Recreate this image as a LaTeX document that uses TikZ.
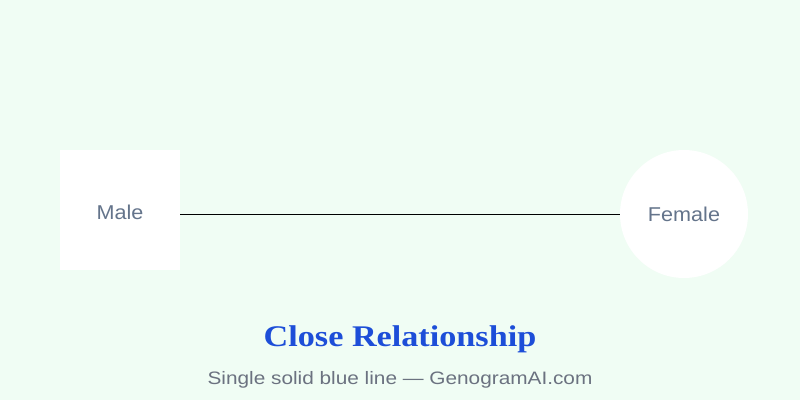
\documentclass[tikz,border=0pt]{standalone}
\usepackage{fontspec}
\setmainfont{Liberation Sans}
\newfontfamily\titlefont[FakeStretch=1.14]{Liberation Serif}
\newfontfamily\lblfont[FakeStretch=1.08]{Liberation Sans}
\newfontfamily\subfont[FakeStretch=1.155]{Liberation Sans}
\definecolor{bg}{HTML}{F0FDF4}
\definecolor{lbl}{HTML}{64748B}
\definecolor{ttl}{HTML}{1D4ED8}
\definecolor{sub}{HTML}{6B7280}
\begin{document}
\begin{tikzpicture}[x=1pt,y=-1pt,
  person/.style={fill=white,draw=none,inner sep=0pt},
  lbltext/.style={text=lbl,font=\lblfont\fontsize{20}{24}\selectfont},
  rel/.style={draw=black,line width=0.8pt}]
\fill[bg] (0,0) rectangle (800,400);
\useasboundingbox (0,0) rectangle (800,400);
\node[person,rectangle,minimum width=120pt,minimum height=120pt] (male) at (120,210) {};
\node[lbltext] (maletxt) at (120,212) {Male};
\node[person,circle,minimum size=128pt] (female) at (684,214) {};
\node[lbltext] (femtxt) at (684,214) {Female};
\coordinate (a) at (180,214);
\coordinate (b) at (620,214);
\draw[rel] (a) -- (b);
\node[text=ttl,font=\titlefont\bfseries\fontsize{30}{36}\selectfont] (title) at (400,339) {Close Relationship};
\node[text=sub,font=\subfont\fontsize{18}{22}\selectfont] (subtitle) at (400,380) {Single solid blue line — GenogramAI.com};
\end{tikzpicture}
\end{document}
